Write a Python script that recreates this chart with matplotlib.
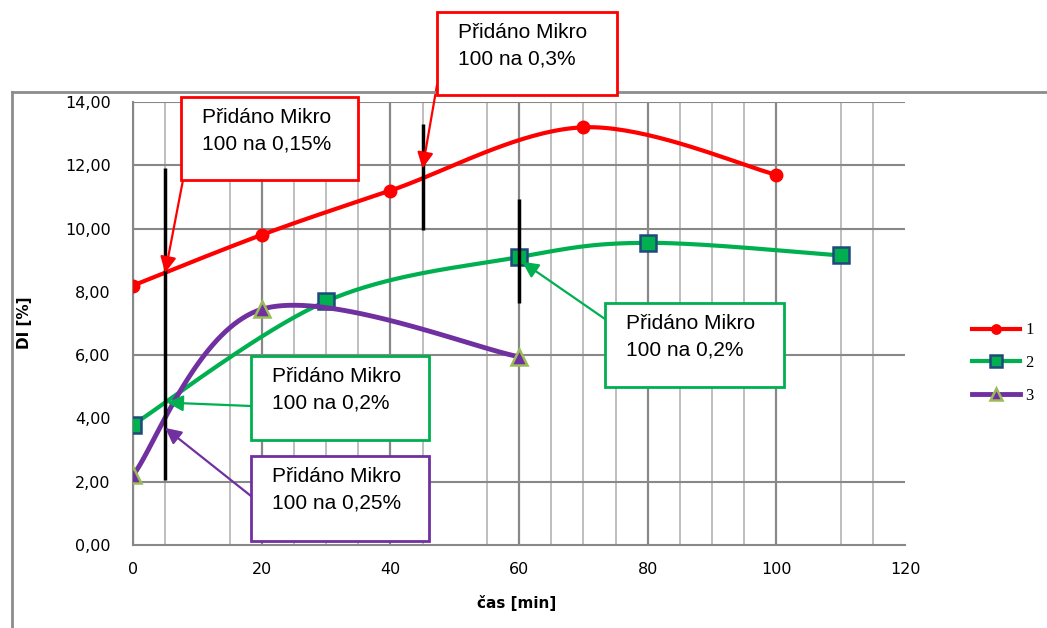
import numpy as np
import matplotlib
matplotlib.use("Agg")
import matplotlib.pyplot as plt
from matplotlib.patches import Rectangle
from matplotlib.lines import Line2D

# ---- data ----
t1 = [0, 20, 40, 70, 100]
di1 = [8.2, 9.8, 11.2, 13.2, 11.7]
t2 = [0, 30, 60, 80, 110]
di2 = [3.8, 7.7, 9.1, 9.55, 9.15]
t3 = [0, 20, 60]
di3 = [2.2, 7.45, 5.95]
series_labels = ["1", "2", "3"]

# vertical markers (time of addition, y-from, y-to)
add_t = [5, 45, 60]
add_lo = [2.05, 9.95, 7.65]
add_hi = [11.9, 13.3, 10.95]

# annotations: text, colour, arrow tip (data)
ann_text = ["Přidáno Mikro\n100 na 0,15%", "Přidáno Mikro\n100 na 0,3%",
            "Přidáno Mikro\n100 na 0,2%", "Přidáno Mikro\n100 na 0,2%",
            "Přidáno Mikro\n100 na 0,25%"]
ann_color = ["#ff0000", "#ff0000", "#00b050", "#00b050", "#7030a0"]
ann_tip_x = [5, 45, 60.5, 5.3, 5.0]
ann_tip_y = [8.6, 11.9, 8.95, 4.5, 3.7]

x_ticks = [0, 20, 40, 60, 80, 100, 120]
y_ticks = [0, 2, 4, 6, 8, 10, 12, 14]

W, H = 1047, 628


def smooth(xs, ys, n=40):
    P = np.column_stack([xs, ys]).astype(float)
    pts = [P[0]]
    idx = [0]
    for i in range(len(P) - 1):
        p0 = P[i - 1] if i > 0 else P[i]
        p1, p2 = P[i], P[i + 1]
        p3 = P[i + 2] if i + 2 < len(P) else P[i + 1]
        c1 = p1 + (p2 - p0) / 6.0
        c2 = p2 - (p3 - p1) / 6.0
        t = np.linspace(0, 1, n + 1)[1:][:, None]
        B = ((1 - t) ** 3) * p1 + 3 * ((1 - t) ** 2) * t * c1 + 3 * (1 - t) * t ** 2 * c2 + t ** 3 * p2
        pts.extend(list(B))
        idx.append(len(pts) - 1)
    pts = np.array(pts)
    return pts[:, 0], pts[:, 1], idx


fig = plt.figure(figsize=(W / 100, H / 100), dpi=100)
ax = fig.add_axes([133 / W, 1 - 545 / H, (905 - 133) / W, (545 - 102) / H])
ax.set_xlim(0, 120)
ax.set_ylim(0, 14)

# grid (as in the reference rendering)
for v in [0, 5, 15, 20, 25, 30, 35, 40, 45, 55, 60, 65, 70, 75, 80, 85, 90, 95, 100, 110, 115]:
    major = v % 20 == 0
    ax.axvline(v, color="#888888" if major else "#b3b3b3", lw=1.6 if major else 1.2, zorder=0)
for v in [2, 6, 10, 12, 14]:
    ax.axhline(v, color="#888888", lw=1.5, zorder=0)

for s in ["top", "right"]:
    ax.spines[s].set_visible(False)
for s in ["left", "bottom"]:
    ax.spines[s].set_color("#888888")
    ax.spines[s].set_linewidth(1.5)

ax.set_xticks(x_ticks)
ax.set_yticks(y_ticks)
ax.set_yticklabels([f"{v:.2f}".replace(".", ",") for v in y_ticks])
ax.tick_params(length=0, labelsize=11.5, colors="black")
ax.tick_params(axis="y", pad=16)
ax.tick_params(axis="x", pad=12)

# series
x, y, idx = smooth(t1, di1)
ax.plot(x, y, color="#ff0000", lw=3, marker="o", markevery=idx, ms=9,
        mfc="#ff0000", mec="#ff0000", label=series_labels[0], zorder=3)
x, y, idx = smooth(t2, di2)
ax.plot(x, y, color="#00b050", lw=3, marker="s", markevery=idx, ms=11,
        mfc="#00b050", mec="#1f497d", mew=1.8, label=series_labels[1], zorder=3)
x, y, idx = smooth(t3, di3)
ax.plot(x, y, color="#7030a0", lw=3.5, marker="^", markevery=idx, ms=11,
        mfc="#7030a0", mec="#9bbb59", mew=1.8, label=series_labels[2], zorder=3)

# vertical addition lines
ax.vlines(add_t, add_lo, add_hi, color="black", lw=2.5, zorder=4)

ax.set_xlabel("čas [min]", fontsize=11, fontweight="bold")
ax.xaxis.set_label_coords(517 / W, 1 - 595 / H, transform=fig.transFigure)
ax.set_ylabel("DI [%]", fontsize=11, fontweight="bold")
ax.yaxis.set_label_coords(32 / W, 1 - 323 / H, transform=fig.transFigure)

# outer frame
fig.add_artist(Line2D([12 / W, 12 / W], [0, 1 - 92 / H], color="#8c8c8c", lw=2, transform=fig.transFigure, zorder=0.5))
fig.add_artist(Line2D([12 / W, 1], [1 - 92 / H, 1 - 92 / H], color="#8c8c8c", lw=2, transform=fig.transFigure, zorder=0.5))

# annotation boxes (image pixel coords: left, top, right, bottom) and arrow start
boxes = [(181, 97, 358, 180), (437, 12, 617, 95), (605, 303, 784, 387),
         (251, 356, 429, 440), (251, 456, 429, 541)]
starts = [(183, 180), (437, 85), (605, 319), (251, 406), (251, 496)]
for (l, t, r, b), (sx, sy), txt, col, tx, ty in zip(boxes, starts, ann_text, ann_color, ann_tip_x, ann_tip_y):
    ax.annotate("", xy=(tx, ty), xycoords="data", xytext=(sx, H - sy), textcoords="figure pixels",
                arrowprops=dict(arrowstyle="-|>", color=col, lw=1.6, mutation_scale=24, shrinkA=0, shrinkB=0),
                annotation_clip=False, zorder=5)
    fig.add_artist(Rectangle((l / W, 1 - b / H), (r - l) / W, (b - t) / H, transform=fig.transFigure,
                             facecolor="white", edgecolor=col, lw=2, zorder=2))
    fig.text((l + 21) / W, 1 - (t + 34) / H, txt, fontsize=15, family="Liberation Sans",
             ha="left", va="center", linespacing=1.5, zorder=3)

leg = ax.legend(loc="center left", bbox_to_anchor=(957 / W, 1 - 363 / H), bbox_transform=fig.transFigure,
                frameon=False, handlelength=2.9, handletextpad=0.3, labelspacing=1.0, markerscale=0.75,
                prop={"family": "Liberation Serif", "size": 12})

fig.savefig("out.png", dpi=100)
